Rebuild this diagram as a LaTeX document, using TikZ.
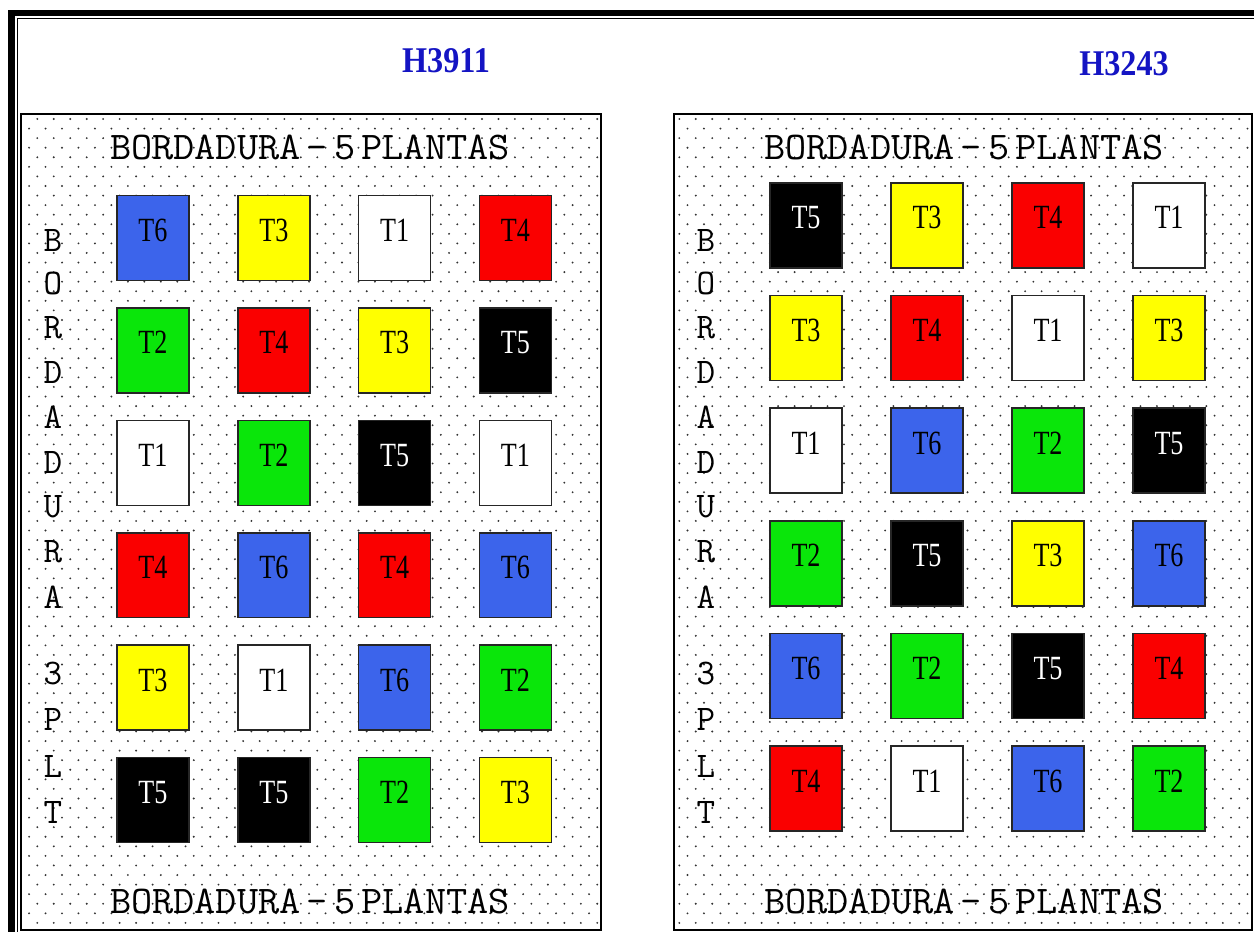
\documentclass[tikz,border=0pt]{standalone}
\usepackage{fontspec}
\usepackage{graphicx}
\usepackage{tikz}
\newfontfamily\labfont{Liberation Serif}
\definecolor{plotblue}{RGB}{60,100,235}
\definecolor{plotgreen}{RGB}{10,230,10}
\definecolor{plotyellow}{RGB}{255,255,0}
\definecolor{plotred}{RGB}{250,0,0}
\definecolor{titleblue}{RGB}{20,20,195}

\begin{document}
\begin{tikzpicture}[x=0.02cm, y=-0.02cm,
  frame/.style={draw=black, line width=3.7pt},
  thinframe/.style={draw=black, line width=0.85pt},
  panel/.style={draw=black, line width=1.1pt},
  dotfill/.style={fill=black!80},
  plot/.style={draw=black!85, line width=0.9pt, minimum width=1.44cm,
               inner sep=0pt, text height=0.92cm, text depth=0.78cm,
               font=\fontsize{19.3}{20}\labfont},
  T1/.style={plot, fill=white},
  T2/.style={plot, fill=plotgreen},
  T3/.style={plot, fill=plotyellow},
  T4/.style={plot, fill=plotred},
  T5/.style={plot, fill=black, text=white},
  T6/.style={plot, fill=plotblue},
  border/.style={anchor=base, font=\fontsize{22.3}{24}\ttfamily},
  letter/.style={inner sep=0pt, font=\fontsize{20.5}{21}\ttfamily},
  title/.style={inner sep=0pt, text=titleblue, font=\fontsize{20.6}{22}\labfont\bfseries},
]
  \useasboundingbox (0,0) rectangle (1254,932);

  % outer frame
  \draw[frame] (11.5,932) -- (11.5,13) -- (1254,13);
  \draw[thinframe] (17.5,932) -- (17.5,18.5) -- (1254,18.5);

  % titles
  \node[title] (h3911) at (446,61) {\scalebox{0.89}[1]{H3911}};
  \node[title] (h3243) at (1124,64) {\scalebox{0.89}[1]{H3243}};

  % dotted fields, one row per path
  \foreach \r in {0,...,84}{
    \fill[dotfill] \foreach \k in {0,...,34}{
      ({29.07+8.235*(1-mod(\r,2))+16.47*\k},{119+9.57*\r}) circle[radius=0.6pt]
    };
    \fill[dotfill] \foreach \k in {0,...,34}{
      ({687.5-8.2*(1-mod(\r,2))+16.47*\k},{119+9.57*\r}) circle[radius=0.6pt]
    };
  }
  \draw[panel] (21,114) rectangle (601,930);
  \draw[panel] (674,114) rectangle (1252,930);

  % border labels
  \node[border] (topA) at (310,160)
    {\scalebox{1.05}[1]{\spaceskip=0.15em\relax BORDADURA – 5 PLANTAS}};
  \node[border] (botA) at (310,913)
    {\scalebox{1.05}[1]{\spaceskip=0.15em\relax BORDADURA – 5 PLANTAS}};
  \node[border] (topB) at (964,160)
    {\scalebox{1.05}[1]{\spaceskip=0.15em\relax BORDADURA – 5 PLANTAS}};
  \node[border] (botB) at (964,913)
    {\scalebox{1.05}[1]{\spaceskip=0.15em\relax BORDADURA – 5 PLANTAS}};

  % side letters
  \foreach \ch/\yy [count=\j] in {B/240,O/283,R/328,D/372,A/417,D/462,U/507,
                                  R/552,A/597,3/673,P/719,L/766,T/812}{
    \node[letter] (la\j) at (53,\yy) {\ch};
    \node[letter] (lb\j) at (706,\yy) {\ch};
  }

  % plots H3911
  \foreach \t [count=\i from 0] in {T6,T3,T1,T4, T2,T4,T3,T5, T1,T2,T5,T1,
                                    T4,T6,T4,T6, T3,T1,T6,T2, T5,T5,T2,T3}
    \node[\t] (a\i) at ({153+120.8*mod(\i,4)},{238+112.4*int(\i/4)})
      {\scalebox{0.77}[1]{\t}};

  % plots H3243
  \foreach \t [count=\i from 0] in {T5,T3,T4,T1, T3,T4,T1,T3, T1,T6,T2,T5,
                                    T2,T5,T3,T6, T6,T2,T5,T4, T4,T1,T6,T2}
    \node[\t] (b\i) at ({806+121*mod(\i,4)},{225.5+112.6*int(\i/4)})
      {\scalebox{0.77}[1]{\t}};
\end{tikzpicture}
\end{document}
